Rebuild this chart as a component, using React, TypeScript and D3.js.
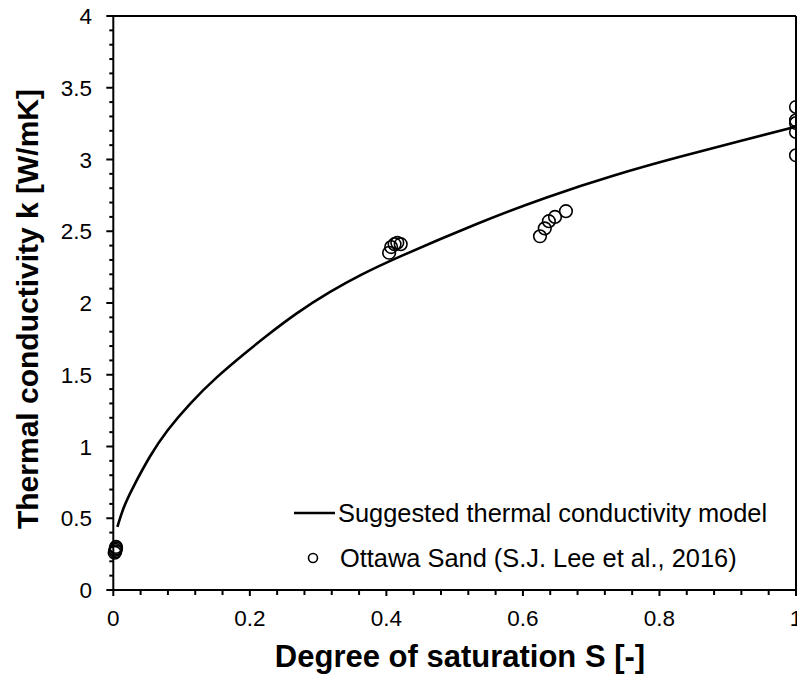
import React from "react";
import * as d3 from "d3";

const modelS = [0.006, 0.0146, 0.027, 0.054, 0.078, 0.112, 0.151, 0.198, 0.22, 0.268, 0.317, 0.366, 0.405, 0.537, 0.635, 0.732, 0.83, 0.92, 1.0];
const modelK = [0.44, 0.575, 0.7, 0.94, 1.11, 1.3, 1.485, 1.67, 1.755, 1.93, 2.08, 2.205, 2.295, 2.565, 2.74, 2.89, 3.02, 3.13, 3.23];

const obsS = [0.002, 0.003, 0.003, 0.004, 0.004, 0.404, 0.407, 0.412, 0.416, 0.421, 0.625, 0.632, 0.638, 0.647, 0.663, 1.0, 1.0, 1.0, 1.0, 1.0];
const obsK = [0.26, 0.27, 0.28, 0.29, 0.3, 2.35, 2.39, 2.41, 2.42, 2.41, 2.465, 2.52, 2.57, 2.6, 2.64, 3.366, 3.273, 3.254, 3.192, 3.029];

const xMajor = [0, 0.2, 0.4, 0.6, 0.8, 1];
const xMajorLabels = ["0", "0.2", "0.4", "0.6", "0.8", "1"];
const yMajor = [0, 0.5, 1, 1.5, 2, 2.5, 3, 3.5, 4];
const yMajorLabels = ["0", "0.5", "1", "1.5", "2", "2.5", "3", "3.5", "4"];

const legendLabels = ["Suggested thermal conductivity model", "Ottawa Sand (S.J. Lee et al., 2016)"];

const font = "'Liberation Sans', Arial, sans-serif";

export default function App() {
  const W = 797, H = 684;
  const left = 113.3, right = 796, top = 16, bottom = 590;
  const x = d3.scaleLinear().domain([0, 1]).range([left, right]);
  const y = d3.scaleLinear().domain([0, 4]).range([bottom, top]);

  const xMinor = d3.range(0, 1.0001, 0.04).filter((v) => !xMajor.some((m) => Math.abs(m - v) < 1e-6));
  const yMinor = d3.range(0, 4.0001, 0.1).filter((v) => !yMajor.some((m) => Math.abs(m - v) < 1e-6));

  const line = d3
    .line<number>()
    .x((_, i) => x(modelS[i]))
    .y((_, i) => y(modelK[i]))
    .curve(d3.curveBasis);

  return (
    <svg width={W} height={H} style={{ position: "absolute", left: 0, top: 0, background: "#fff" }}>
      <rect x={0} y={0} width={W} height={H} fill="#fff" />
      {/* model line */}
      <path d={line(modelK) || ""} fill="none" stroke="#000" strokeWidth={2.6} />
      {/* observations */}
      {obsS.map((s, i) => (
        <circle key={i} cx={x(s)} cy={y(obsK[i])} r={6.3} fill="none" stroke="#000" strokeWidth={1.6} />
      ))}
      {/* frame */}
      <line x1={left} x2={right} y1={top} y2={top} stroke="#000" strokeWidth={2} />
      <line x1={right} x2={right} y1={top} y2={bottom} stroke="#000" strokeWidth={2} />
      <line x1={left} x2={left} y1={top - 1} y2={bottom + 1} stroke="#000" strokeWidth={2} />
      <line x1={left - 1} x2={right + 1} y1={bottom} y2={bottom} stroke="#000" strokeWidth={2} />
      {/* x ticks */}
      {xMajor.map((v, i) => (
        <g key={"xm" + i}>
          <line x1={x(v)} x2={x(v)} y1={bottom} y2={bottom + 6} stroke="#000" strokeWidth={2} />
          <text x={x(v)} y={626} textAnchor="middle" fontFamily={font} fontSize={22.5} fill="#000">
            {xMajorLabels[i]}
          </text>
        </g>
      ))}
      {xMinor.map((v, i) => (
        <line key={"xn" + i} x1={x(v)} x2={x(v)} y1={bottom} y2={bottom + 5} stroke="#000" strokeWidth={2} />
      ))}
      {/* y ticks */}
      {yMajor.map((v, i) => (
        <g key={"ym" + i}>
          <line x1={left} x2={left - 7} y1={y(v)} y2={y(v)} stroke="#000" strokeWidth={2} />
          <text x={92} y={y(v)} dy="0.36em" textAnchor="end" fontFamily={font} fontSize={22.5} fill="#000">
            {yMajorLabels[i]}
          </text>
        </g>
      ))}
      {yMinor.map((v, i) => (
        <line key={"yn" + i} x1={left} x2={left - 4} y1={y(v)} y2={y(v)} stroke="#000" strokeWidth={2} />
      ))}
      {/* axis titles */}
      <text x={460} y={667} textAnchor="middle" fontFamily={font} fontSize={31} fontWeight="bold" fill="#000">
        Degree of saturation S [-]
      </text>
      <text
        transform={`translate(38,309) rotate(-90)`}
        textAnchor="middle"
        fontFamily={font}
        fontSize={30}
        fontWeight="bold"
        fill="#000"
      >
        Thermal conductivity k [W/mK]
      </text>
      {/* legend */}
      <line x1={294} x2={335} y1={513} y2={513} stroke="#000" strokeWidth={2.6} />
      <text x={338} y={522} fontFamily={font} fontSize={25.4} fill="#000">
        {legendLabels[0]}
      </text>
      <circle cx={313} cy={558} r={4.5} fill="none" stroke="#000" strokeWidth={1.6} />
      <text x={340} y={567} fontFamily={font} fontSize={25.4} fill="#000">
        {legendLabels[1]}
      </text>
    </svg>
  );
}
